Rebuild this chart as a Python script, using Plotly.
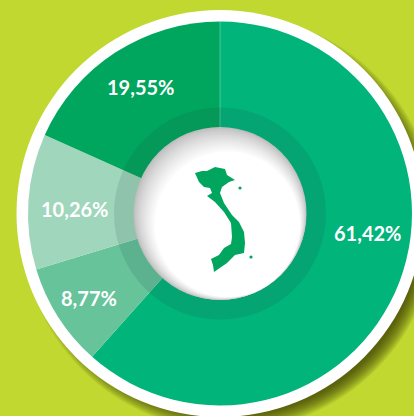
import plotly.graph_objects as go

W, H = 414, 416
drawn_shares = [61.6, 8.7, 11.4, 18.3]
labels = ["61,42%", "8,77%", "10,26%", "19,55%"]
colors = ["#00b47a", "#66c39a", "#a0d6bc", "#00a65d"]
label_x = [367.5, 89, 74, 140]
label_y = [233, 298, 209, 87]
CX, CY, R = 220, 213.5, 192
BG = "#c0d82f"

# outline of Vietnam, in pixels
map_outline = [(195,173),(202,171),(207,171),(215,167),(220,168),(225,169),(227,175),(235,180),(229,182),
 (222,187),(220,193),(224,203),(232,215),(239,222),(244,232),(245,243),(244,253),(235,255),(227,263),
 (214,272),(213,265),(211,259),(219,255),(224,248),(231,244),(232,237),(231,223),(224,212),(215,202),
 (207,196),(212,193),(210,188),(204,187),(199,182)]
islands = [(240,188,1.6),(251,257,1.6)]


def px(x):
    return x / W


def py(y):
    return 1 - y / H


def circle(x, y, r, fill, layer):
    return dict(type="circle", xref="paper", yref="paper", x0=px(x - r), x1=px(x + r),
                y0=py(y + r), y1=py(y - r), fillcolor=fill, line_width=0, layer=layer)


shapes = []
# soft drop shadow of the white disc
for i in range(12):
    shapes.append(circle(CX + 9, CY + 9, 208 - i * 1.3, "rgba(50,50,0,0.085)", "below"))
shapes.append(circle(CX, CY, 203.5, "#ffffff", "below"))

# seam between first and last slice
shapes.append(dict(type="line", xref="paper", yref="paper", x0=px(CX), x1=px(CX), y0=py(CY - R), y1=py(CY),
                   line=dict(color="rgba(255,255,255,0.3)", width=1), layer="above"))
# darker ring round the hole
shapes.append(circle(CX, CY, 106, "rgba(30,70,60,0.13)", "above"))
# centre disc with inner shadow from the upper left
N = 16
for i in range(N + 1):
    t = i / N
    rr = 86.5 * (1 - 0.16 * t)
    off = (86.5 - rr) * 0.7071
    v = int(190 + 65 * t ** 0.75)
    shapes.append(circle(CX + off * 0.75, CY + off * 1.1, rr, f"rgb({v},{v},{v})", "above"))
# the country
d = "M" + "L".join(f"{px(x):.5f},{py(y):.5f}" for x, y in map_outline) + "Z"
shapes.append(dict(type="path", xref="paper", yref="paper", path=d, fillcolor="#00a65d", line_width=0, layer="above"))
for x, y, r in islands:
    shapes.append(circle(x, y, r, "#00a65d", "above"))

annotations = [dict(x=px(x), y=py(y), xref="paper", yref="paper", text=t, showarrow=False,
                    xanchor="center", yanchor="middle",
                    font=dict(family="Lato", size=20, color="#ffffff", weight="bold"))
               for x, y, t in zip(label_x, label_y, labels)]

fig = go.Figure(go.Pie(values=drawn_shares, labels=labels, sort=False, direction="clockwise", rotation=0,
                       marker=dict(colors=colors, line=dict(width=0)), textinfo="none", hoverinfo="skip",
                       showlegend=False,
                       domain=dict(x=[px(CX - R), px(CX + R)], y=[py(CY + R), py(CY - R)])))
fig.update_layout(width=W, height=H, margin=dict(l=0, r=0, t=0, b=0), paper_bgcolor=BG, plot_bgcolor=BG,
                  shapes=shapes, annotations=annotations)
fig.write_html("out.html", config=dict(displayModeBar=False),
               post_script="document.body.style.margin='0';document.documentElement.style.overflow='hidden';")
